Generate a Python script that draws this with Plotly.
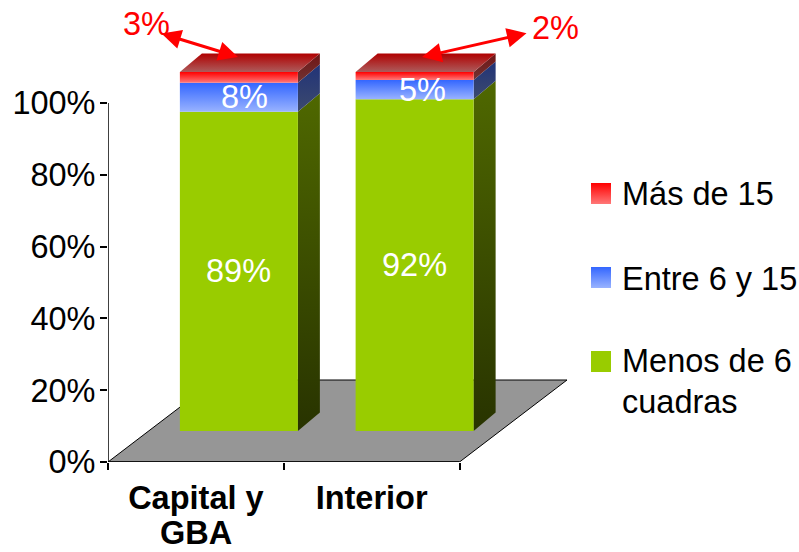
import plotly.graph_objects as go

categories = ["Capital y", "Interior"]
category_second_line = ["GBA", ""]
menos_de_6 = [88.9, 92.4]
entre_6_y_15 = [8.1, 5.4]
mas_de_15 = [3.0, 2.2]
y_ticks = [0, 20, 40, 60, 80, 100]
y_tick_labels = ["0%", "20%", "40%", "60%", "80%", "100%"]
mas_labels = ["3%", "2%"]

FONT = "Liberation Sans"
FS = 32.5
W, H = 799, 552
L, R, T, B = 108, 459.5, 103, 462
PX_X = (R - L) / 2.0      # pixels per category
PX_Y = (B - T) / 100.0    # pixels per percent


def dw(px):  # pixel width -> x units
    return px / PX_X


def dh(px):  # pixel height -> y units
    return px / PX_Y


def fx(px):
    return -0.5 + (px - L) / PX_X


def fy(px):
    return (B - px) / PX_Y


BAR_W = dw(118)
BAR_DX = dw(43)       # bar centre right of the category centre
BAR_BASE = dh(31)     # bar foot above the axis
DEPTH_X, DEPTH_Y = dw(22), dh(18.5)
FLOOR_X, FLOOR_Y = dw(107.5), dh(82)

series = [
    dict(name="Menos de 6 cuadras", values=menos_de_6,
         front=("#99CC00", "#99CC00"), side=("#283300", "#4F6800")),
    dict(name="Entre 6 y 15", values=entre_6_y_15,
         front=("#99B3FF", "#3366FF"), side=("#3C4A6E", "#213378")),
    dict(name="Más de 15", values=mas_de_15,
         front=("#FF7878", "#FF0000"), side=("#703434", "#701414")),
]
top_colors = ("#AD5C5C", "#B00000")

fig = go.Figure()


def poly(xs, ys, colors=None, solid=None, line=None, name=""):
    kw = dict(x=xs + xs[:1], y=ys + ys[:1], mode="lines", fill="toself", name=name,
              hoverinfo="skip", showlegend=False, cliponaxis=False,
              line=dict(width=1, color=line) if line else dict(width=0))
    if colors:
        kw["fillgradient"] = dict(type="vertical", start=min(ys), stop=max(ys),
                                  colorscale=[[0, colors[0]], [1, colors[1]]])
    else:
        kw["fillcolor"] = solid
    fig.add_trace(go.Scatter(**kw))


# floor
poly([-0.5, 1.5, 1.5 + FLOOR_X, -0.5 + FLOOR_X], [0, 0, FLOOR_Y, FLOOR_Y],
     solid="#969696", line="#000000", name="floor")

annotations = []
for i in range(len(categories)):
    x0 = i + BAR_DX - BAR_W / 2
    x1 = x0 + BAR_W
    base = BAR_BASE
    for k, s in enumerate(series):
        v = s["values"][i]
        top = base + v
        # side face
        poly([x1, x1 + DEPTH_X, x1 + DEPTH_X, x1],
             [base, base + DEPTH_Y, top + DEPTH_Y, top], colors=s["side"], name=s["name"])
        # front face
        poly([x0, x1, x1, x0], [base, base, top, top], colors=s["front"], name=s["name"])
        if k < 2:
            shift = [0, 6 + 2 * i][k]
            annotations.append(dict(x=(x0 + x1) / 2, y=(base + top) / 2, text=f"{v:.0f}%",
                                    showarrow=False, xshift=shift,
                                    font=dict(family=FONT, size=FS, color="white")))
        base = top
    # top face
    poly([x0, x1, x1 + DEPTH_X, x0 + DEPTH_X],
         [base, base, base + DEPTH_Y, base + DEPTH_Y], colors=top_colors, name="top")

# red labels and double arrows
annotations += [
    dict(x=fx(146), y=fy(24), text=mas_labels[0], showarrow=False,
         font=dict(family=FONT, size=FS, color="#FF0000")),
    dict(x=fx(555), y=fy(28), text=mas_labels[1], showarrow=False,
         font=dict(family=FONT, size=FS, color="#FF0000")),
    dict(x=fx(238), y=fy(57), ax=fx(160), ay=fy(33), axref="x", ayref="y", text="",
         showarrow=True, arrowside="end+start", arrowhead=2, arrowsize=1.3, arrowwidth=3,
         arrowcolor="#FF0000"),
    dict(x=fx(422), y=fy(57), ax=fx(528), ay=fy(33), axref="x", ayref="y", text="",
         showarrow=True, arrowside="end+start", arrowhead=2, arrowsize=1.3, arrowwidth=3,
         arrowcolor="#FF0000"),
]

# second line of the category label
annotations.append(dict(x=0, y=(B - 533) / B, yref="paper", text=category_second_line[0],
                        showarrow=False,
                        font=dict(family=FONT, size=FS, color="black", weight="bold")))

# legend
swatches = [(183, series[2]), (267, series[1]), (351, series[0])]
for top_px, s in swatches:
    poly([fx(591), fx(611), fx(611), fx(591)],
         [fy(top_px + 21), fy(top_px + 21), fy(top_px), fy(top_px)], colors=s["front"], name=s["name"])
legend_lines = [("Más de 15", 194), ("Entre 6 y 15", 279), ("Menos de 6", 361), ("cuadras", 402)]
for text, y_px in legend_lines:
    annotations.append(dict(x=fx(620), y=fy(y_px), text=text, showarrow=False, xanchor="left",
                            font=dict(family=FONT, size=FS, color="black")))

for a in annotations:
    a.setdefault("xref", "x")
    a.setdefault("yref", "y")
    a.setdefault("xanchor", "center")
    a.setdefault("yanchor", "middle")
    a["captureevents"] = False

# axis lines stop at the chart's own ends while the plot area runs on for the 3D overhang
axis_lines = [
    dict(type="line", xref="x", yref="y", x0=-0.5, x1=1.5, y0=0, y1=0, layer="above",
         line=dict(color="black", width=1.5)),
    dict(type="line", xref="x", yref="y", x0=-0.5, x1=-0.5, y0=0, y1=100, layer="above",
         line=dict(color="black", width=1.5)),
]

fig.update_layout(
    width=W, height=H, autosize=False,
    margin=dict(l=L, r=0, t=0, b=H - B, pad=0),
    paper_bgcolor="white", plot_bgcolor="white", showlegend=False,
    font=dict(family=FONT, size=FS, color="black"),
    annotations=annotations, shapes=axis_lines,
    xaxis=dict(range=[-0.5, fx(W)], tickvals=[0, 1], ticktext=categories, ticks="",
               showline=False, showgrid=False, zeroline=False,
               tickfont=dict(family=FONT, size=FS, color="black", weight="bold"),
               ticklabelstandoff=13,
               minor=dict(tickmode="array", tickvals=[-0.5, 0.5, 1.5], ticks="outside", ticklen=7,
                          tickcolor="black", tickwidth=1.5, showgrid=False)),
    yaxis=dict(range=[0, fy(0)], tickvals=y_ticks, ticktext=y_tick_labels, ticks="outside",
               ticklen=7, tickcolor="black", tickwidth=1.5, showline=False,
               showgrid=False, zeroline=False, ticklabelstandoff=-2,
               tickfont=dict(family=FONT, size=FS, color="black")),
)

fig.write_html("out.html", config={"displayModeBar": False, "responsive": False},
               post_script="document.body.style.margin='0';document.documentElement.style.overflow='hidden';")
